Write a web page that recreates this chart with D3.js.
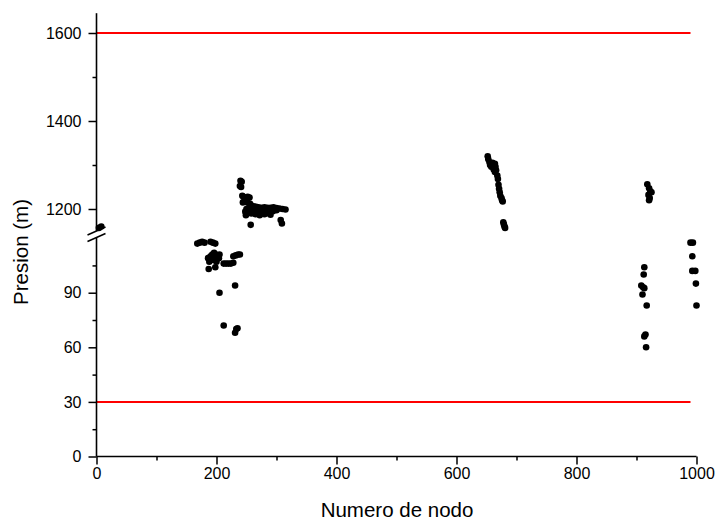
<!DOCTYPE html>
<html><head><meta charset="utf-8">
<script src="https://cdn.jsdelivr.net/npm/d3@7"></script>
<style>
body{margin:0;background:#fff;}
svg text{font-family:"Liberation Sans",Arial,sans-serif;fill:#000;}
</style></head>
<body><svg id="c" width="719" height="521"></svg>
<script>
// ---- data ----
const xTicks = [0, 200, 400, 600, 800, 1000];
const xMinorTicks = [100, 300, 500, 700, 900];
const yLowTicks = [0, 30, 60, 90];
const yLowMinor = [15, 45, 75, 105];
const yHighTicks = [1200, 1400, 1600];
const yHighMinor = [1300, 1500];
const limitValues = [30, 1600];
const limitRange = [0, 990];

// points: [nodo, presion]
const groupStart = [[4, 1157], [8, 1160]];
const group200High = [
  [240,1264],[242,1262],[239,1252],[241,1250],
  [243,1230],[245,1228],[248,1225],[250,1222],[252,1228],[255,1226],[247,1218],[244,1215],[252,1214],[256,1212],
  [258,1208],[262,1206],[266,1205],[270,1204],[275,1203],[280,1204],[285,1203],[290,1203],[295,1204],[300,1202],[305,1201],[310,1200],[315,1199],
  [250,1200],[255,1198],[262,1196],[268,1195],[275,1193],[282,1192],[288,1190],[294,1195],[300,1197],
  [248,1194],[249,1186],[258,1190],[265,1188],[272,1186],[280,1188],[290,1187],
  [257,1164],[307,1175],[309,1167]
];
const group200Low = [
  [168,117],[172,117.5],[176,118],[180,117.5],[190,118],[194,117.5],[198,117],
  [186,109],[190,110],[193,111],[196,112],[199,111],[202,110],[205,111],[188,107],[195,108],[200,107],[204,109],
  [187,103],[198,104],
  [212,106],[216,106],[220,106],[224,106],[228,106.5],
  [228,110],[232,110.5],[236,111],[239,111],
  [231,94],[205,90],[212,72],[231,68],[233,70],[235,70.5]
];
const group650 = [
  [652,1320],[653,1313],[655,1306],[656,1300],[658,1296],[660,1305],[662,1300],[664,1303],[665,1296],
  [662,1290],[666,1288],[664,1284],[668,1276],[669,1268],[670,1255],[671,1246],[672,1238],[673,1230],
  [675,1225],[676,1220],[677,1217],[678,1170],[679,1165],[680,1160],[681,1157]
];
const group900High = [[918,1256],[921,1247],[923,1240],[925,1238],[920,1232],[922,1225],[921,1220]];
const group900Low = [[913,104],[912,100],[908,94],[911,93],[913,92.5],[910,89],[917,83],[915,67],[913,66],[916,60]];
const group1000Low = [[990,117.5],[994,117.5],[993,110],[993,102],[998,102],[999,95],[1000,83]];

// ---- scales ----
const svg = d3.select("#c");
const x = d3.scaleLinear().domain([0, 1000]).range([96.5, 696.5]);
const yLow = d3.scaleLinear().domain([0, 121]).range([456.5, 236.3]);
const yHigh = d3.scaleLinear().domain([1145, 1645]).range([233.2, 13.2]);
const y = v => v > 600 ? yHigh(v) : yLow(v);

// ---- limit lines ----
limitValues.forEach(v => {
  svg.append("line")
    .attr("x1", x(limitRange[0])).attr("x2", x(limitRange[1]))
    .attr("y1", y(v)).attr("y2", y(v))
    .attr("stroke", "#ff0000").attr("stroke-width", 2);
});

// ---- points ----
const allPts = [].concat(groupStart, group200High, group200Low, group650, group900High, group900Low, group1000Low);
svg.append("g").selectAll("circle").data(allPts).join("circle")
  .attr("cx", d => x(d[0])).attr("cy", d => y(d[1])).attr("r", 3.3).attr("fill", "#000");

// ---- axes ----
const fmt = d3.format("d");
function styleAxis(g){
  g.selectAll("line").attr("stroke", "#000").attr("stroke-width", 1.5);
  g.selectAll("text").style("font-size", "16px").attr("fill", "#000");
  g.select(".domain").remove();
}
const xAxisY = yLow(0);
svg.append("g").attr("transform", `translate(0,${xAxisY})`)
  .call(d3.axisBottom(x).tickValues(xTicks).tickSize(8).tickPadding(3).tickFormat(fmt))
  .call(styleAxis);
svg.append("g").attr("transform", `translate(0,${xAxisY})`)
  .call(d3.axisBottom(x).tickValues(xMinorTicks).tickSize(4).tickFormat(""))
  .call(styleAxis);

const axX = x(0);
svg.append("g").attr("transform", `translate(${axX},0)`)
  .call(d3.axisLeft(yLow).tickValues(yLowTicks).tickSize(8).tickPadding(7).tickFormat(fmt))
  .call(styleAxis);
svg.append("g").attr("transform", `translate(${axX},0)`)
  .call(d3.axisLeft(yLow).tickValues(yLowMinor).tickSize(4).tickFormat(""))
  .call(styleAxis);
svg.append("g").attr("transform", `translate(${axX},0)`)
  .call(d3.axisLeft(yHigh).tickValues(yHighTicks).tickSize(8).tickPadding(7).tickFormat(fmt))
  .call(styleAxis);
svg.append("g").attr("transform", `translate(${axX},0)`)
  .call(d3.axisLeft(yHigh).tickValues(yHighMinor).tickSize(4).tickFormat(""))
  .call(styleAxis);

// axis lines
const ax = svg.append("g").attr("stroke", "#000").attr("stroke-width", 1.6).attr("fill", "none");
ax.append("line").attr("x1", x(0)).attr("x2", x(1000)).attr("y1", xAxisY).attr("y2", xAxisY);
ax.append("line").attr("x1", axX).attr("x2", axX).attr("y1", yHigh.range()[1]).attr("y2", 231);
ax.append("line").attr("x1", axX).attr("x2", axX).attr("y1", 237.5).attr("y2", xAxisY);
// break marks
[231, 237.5].forEach(cy => {
  ax.append("line").attr("x1", axX - 9).attr("x2", axX + 9)
    .attr("y1", cy + 4).attr("y2", cy - 4).attr("stroke-width", 1.6);
});

// ---- titles ----
svg.append("text").attr("x", 397).attr("y", 517).attr("text-anchor", "middle")
  .style("font-size", "20.5px").text("Numero de nodo");
svg.append("text").attr("transform", "translate(28,252) rotate(-90)").attr("text-anchor", "middle")
  .style("font-size", "20.5px").text("Presion (m)");
</script></body></html>
